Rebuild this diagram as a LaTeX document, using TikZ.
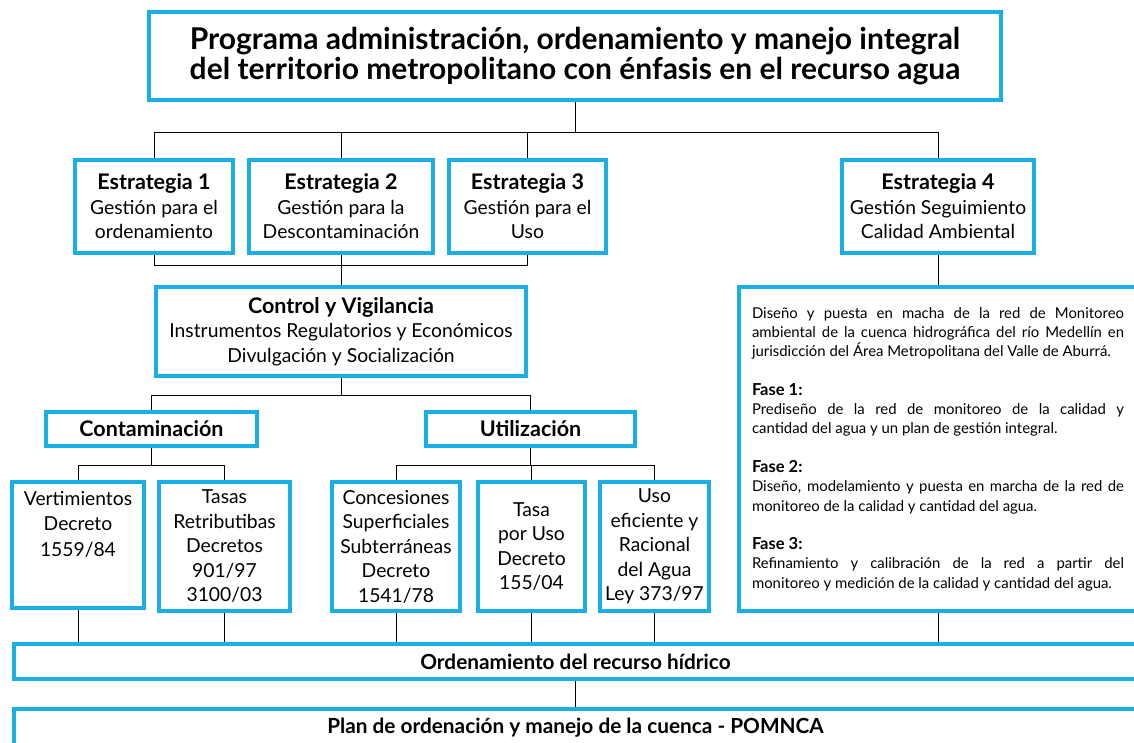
\documentclass[tikz,border=0pt]{standalone}
\usepackage{fontspec}
\setmainfont{Lato}
\usetikzlibrary{backgrounds}
\definecolor{aguazul}{HTML}{1AAEE6}
\hyphenpenalty=10000
\exhyphenpenalty=10000
\newcommand{\negr}[1]{{\bfseries\fontsize{21.5}{24.5}\selectfont #1}}
\newcommand{\fase}[1]{{\bfseries\fontsize{16.5}{19.3}\selectfont #1}}
\tikzset{
  caja/.style={draw=aguazul, line width=4pt, align=center, inner sep=2pt,
    font=\fontsize{19.3}{24.5}\selectfont},
  titulo/.style={font=\bfseries\fontsize{30}{30}\selectfont},
  negrita/.style={font=\bfseries\fontsize{21.5}{24}\selectfont},
  enlace/.style={line width=1.4pt, black},
}
\begin{document}
\begin{tikzpicture}[x=1pt, y=-1pt]
    \useasboundingbox (0,0) rectangle (1134,742);

    % programa
    \node [caja, titulo, minimum width=852pt, minimum height=88pt] (prog) at (575,56)
        {Programa administración, ordenamiento y manejo integral\\del territorio metropolitano con énfasis en el recurso agua};

    % estrategias
    \node [caja, minimum width=158pt, minimum height=93pt] (est1) at (154,206.5)
        {\negr{Estrategia 1}\\Gestión para el\\ordenamiento};
    \node [caja, minimum width=184pt, minimum height=93pt] (est2) at (341,206.5)
        {\negr{Estrategia 2}\\Gestión para la\\Descontaminación};
    \node [caja, minimum width=157pt, minimum height=93pt] (est3) at (527.5,206.5)
        {\negr{Estrategia 3}\\Gestión para el\\Uso};
    \node [caja, minimum width=192pt, minimum height=93pt] (est4) at (938,206.5)
        {\negr{Estrategia 4}\\Gestión Seguimiento\\Calidad Ambiental};

    \node [caja, minimum width=370pt, minimum height=89pt] (control) at (341,331.5)
        {\negr{Control y Vigilancia}\\Instrumentos Regulatorios y Económicos\\Divulgación y Socialización};

    \node [caja, negrita, minimum width=211pt, minimum height=34pt] (contam) at (151.5,429) {Contaminación};
    \node [caja, negrita, minimum width=209pt, minimum height=34pt] (util) at (530.5,429) {Utilización};

    % instrumentos
    \node [caja, minimum width=132pt, minimum height=126pt] (vert) at (78,545)
        {\parbox[c][108pt][t]{125pt}{\centering\fontsize{19.3}{25.5}\selectfont Vertimientos\\Decreto\\1559/84}};
    \node [caja, minimum width=131pt, minimum height=129pt] (tasas) at (224.5,546.5)
        {Tasas\\Retributibas\\Decretos\\901/97\\3100/03};
    \node [caja, minimum width=128pt, minimum height=129pt] (conc) at (396,546.5)
        {Concesiones\\Superficiales\\Subterráneas\\Decreto\\1541/78};
    \node [caja, minimum width=107pt, minimum height=129pt] (tasa) at (531.5,546.5)
        {Tasa\\por Uso\\Decreto\\155/04};
    \node [caja, minimum width=109pt, minimum height=129pt] (uso) at (654.5,546.5)
        {Uso\\eficiente y\\Racional\\del Agua\\Ley 373/97};

    % monitoreo
    \node [caja, minimum width=398pt, minimum height=324pt, text width=372pt, align=justify,
           font=\fontsize{14.9}{19.3}\selectfont] (monit) at (938,449)
        {Diseño y puesta en macha de la red de Monitoreo\linebreak
         ambiental de la cuenca hidrográfica del río Medellín en\linebreak
         jurisdicción del Área Metropolitana del Valle de Aburrá.\par\vspace{19.3pt}
         \fase{Fase 1:}\\
         Prediseño de la red de monitoreo de la calidad y\linebreak
         cantidad del agua y un plan de gestión integral.\par\vspace{19.3pt}
         \fase{Fase 2:}\\
         Diseño, modelamiento y puesta en marcha de la red de\linebreak
         monitoreo de la calidad y cantidad del agua.\par\vspace{19.3pt}
         \fase{Fase 3:}\\
         Refinamiento y calibración de la red a partir del\linebreak
         monitoreo y medición de la calidad y cantidad del agua.};

    \node [caja, negrita, font=\bfseries\fontsize{20.8}{24}\selectfont, minimum width=1123pt, minimum height=35pt] (orden) at (575.5,661.5)
        {Ordenamiento del recurso hídrico};
    \node [caja, negrita, font=\bfseries\fontsize{20.8}{24}\selectfont, minimum width=1123pt, minimum height=38pt] (pomnca) at (575.5,728)
        {Plan de ordenación y manejo de la cuenca - POMNCA};

    \begin{scope}[on background layer, enlace]
        \coordinate (bus1) at (575,132);
        \coordinate (bus2) at (341,265);
        \coordinate (bus3) at (341,395);
        \coordinate (bus4) at (151.5,465);
        \coordinate (bus5) at (530.5,465);

        \draw (prog) -- (prog.south|-bus1);
        \draw (est1.north) |- (est4.north|-bus1) -- (est4.north);
        \draw (est2.north) -- (est2.north|-bus1);
        \draw (est3.north) -- (est3.north|-bus1);

        \draw (est1.south) |- (est3.south|-bus2) -- (est3.south);
        \draw (est2.south) -- (control.north);
        \draw (est4.south) -- (monit.north);

        \draw (control.south) -- (bus3);
        \draw (contam.north) |- (util.north|-bus3) -- (util.north);

        \draw (contam.south) -- (bus4);
        \draw (vert.north) |- (tasas.north|-bus4) -- (tasas.north);
        \draw (util.south) -- (bus5);
        \draw (conc.north) |- (uso.north|-bus5) -- (uso.north);
        \draw (tasa.north) -- (tasa.north|-bus5);

        \foreach \n in {vert,tasas,conc,tasa,uso,monit}
            \draw (\n.south) -- (\n.south|-orden.north);
        \draw (orden.south) -- (orden.south|-pomnca.north);
    \end{scope}
\end{tikzpicture}
\end{document}
